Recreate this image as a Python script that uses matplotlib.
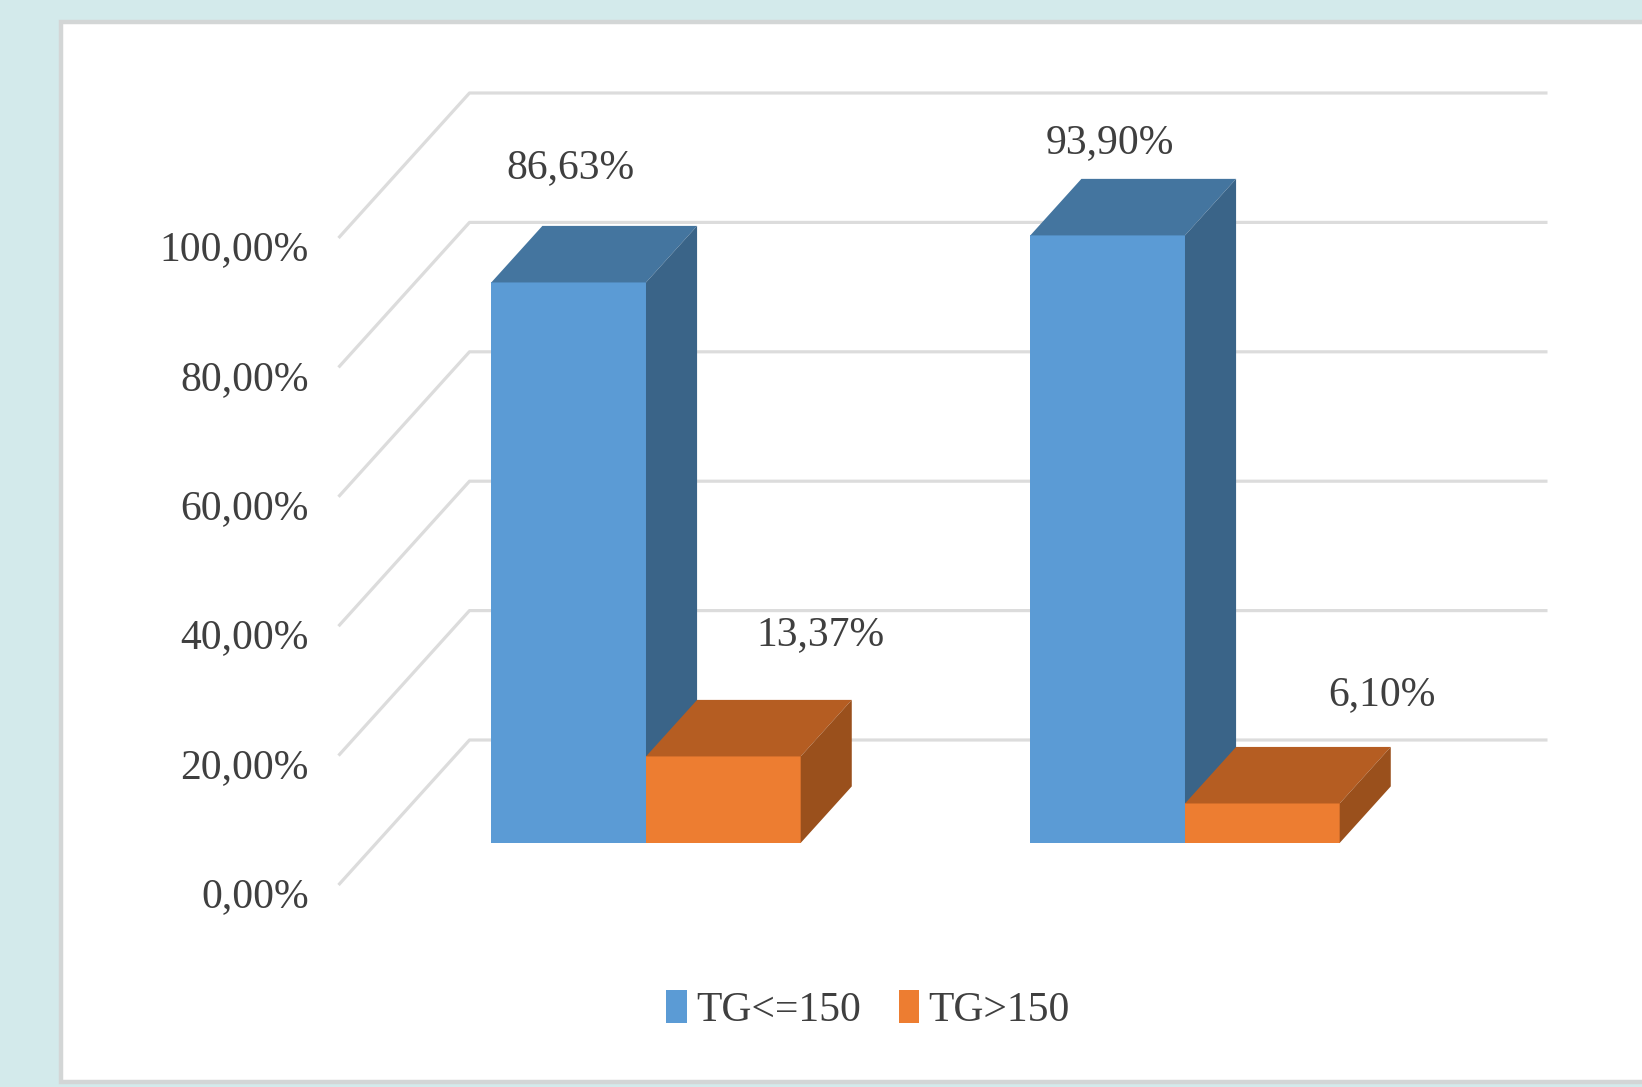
import matplotlib.pyplot as plt
from matplotlib.patches import Rectangle, Polygon

# data
groups = [0, 1]
series_names = ["TG<=150", "TG>150"]
tg_low = [86.63, 93.90]
tg_high = [13.37, 6.10]
low_labels = ["86,63%", "93,90%"]
high_labels = ["13,37%", "6,10%"]
yticks = [0, 20, 40, 60, 80, 100]
ytick_labels = ["0,00%", "20,00%", "40,00%", "60,00%", "80,00%", "100,00%"]

# styles
front_col = ["#5b9bd5", "#ed7d31"]
top_col = ["#44759f", "#b55d22"]
side_col = ["#3a6488", "#9a501c"]
grid_col = "#dcdcdc"
text_col = "#3f3f3f"
font = "Liberation Serif"
fs = 30

W, H = 1642, 1087
fig = plt.figure(figsize=(W / 100, H / 100), dpi=100)
fig.patch.set_facecolor("#d3eaeb")
fig.patches.append(Rectangle((61 / W, 1 - 1082 / H), (1700 - 61) / W, (1082 - 22) / H,
                             transform=fig.transFigure, facecolor="white",
                             edgecolor="#d3d6d6", lw=3.2, zorder=-1))

ax = fig.add_axes([0, 0, 1, 1])
ax.set_axis_off()
ax.patch.set_alpha(0)
xu, yu = 539.0, 6.47  # pixels per category / per percent
ax.set_xlim(-608 / xu, (W - 608) / xu)
ax.set_ylim(-(H - 885) / yu, 885 / yu)

# oblique depth vector
DX, DY = 131 / xu, 145 / yu
wall_l, wall_r = -0.5, 1.5
bw = 0.287
d0, bd = 0.29, 0.39

for v in yticks:
    ax.plot([wall_l, wall_l + DX, wall_r + DX], [v, v + DY, v + DY],
            color=grid_col, lw=2.3, solid_capstyle="butt", zorder=1)
for v, t in zip(yticks, ytick_labels):
    ax.annotate(t, (wall_l, v), xytext=(-30, -12), textcoords="offset pixels",
                ha="right", va="center", fontsize=fs, family=font, color=text_col)


def bar3d(x0, x1, v, i, label=None):
    ox, oy = d0 * DX, d0 * DY
    bx, by = bd * DX, bd * DY
    ax.add_patch(Rectangle((x0 + ox, oy), x1 - x0, v, fc=front_col[i], ec="none",
                           label=label, zorder=2))
    ax.add_patch(Polygon([(x0 + ox, v + oy), (x1 + ox, v + oy),
                          (x1 + ox + bx, v + oy + by), (x0 + ox + bx, v + oy + by)],
                         fc=top_col[i], ec="none", zorder=2))
    ax.add_patch(Polygon([(x1 + ox, oy), (x1 + ox + bx, oy + by),
                          (x1 + ox + bx, v + oy + by), (x1 + ox, v + oy)],
                         fc=side_col[i], ec="none", zorder=2))
    return (x0 + x1) / 2 + ox, v + oy


label_off = [[(2, 115), (97, 122)], [(2, 93), (120, 109)]]
for k, g in enumerate(groups):
    vals = [tg_low[k], tg_high[k]]
    labs = [low_labels[k], high_labels[k]]
    spans = [(g - bw, g), (g, g + bw)]
    for i in range(2):
        cx, cy = bar3d(spans[i][0], spans[i][1], vals[i], i,
                       label=series_names[i] if k == 0 else None)
        ax.annotate(labs[i], (cx, cy), xytext=label_off[k][i], textcoords="offset pixels",
                    ha="center", va="center", fontsize=fs, family=font, color=text_col)

leg = ax.legend(loc="center", bbox_to_anchor=(868 / W, 1 - 1010 / H),
                bbox_transform=fig.transFigure, ncol=2, frameon=False,
                handlelength=0.5, handleheight=0.82, handletextpad=0.22,
                columnspacing=0.9, prop={"family": font, "size": fs})
for t in leg.get_texts():
    t.set_color(text_col)

fig.savefig("out.png", dpi=100, facecolor=fig.get_facecolor())
